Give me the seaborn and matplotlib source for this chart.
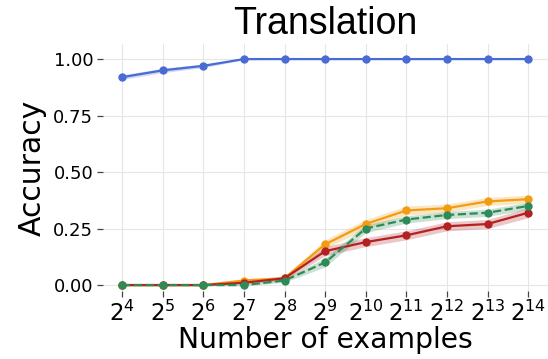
import matplotlib
matplotlib.use("Agg")
import matplotlib.pyplot as plt
import seaborn as sns
import pandas as pd

# Training-set size as powers of two
exponents = [4, 5, 6, 7, 8, 9, 10, 11, 12, 13, 14]
tick_labels = [f"$2^{{{e}}}$" for e in exponents]

# Mean accuracy per model and half-width of its confidence band
blue_mean = [0.92, 0.95, 0.97, 1.00, 1.00, 1.00, 1.00, 1.00, 1.00, 1.00, 1.00]
blue_band = [0.010, 0.010, 0.008, 0.003, 0.002, 0.002, 0.002, 0.002, 0.002, 0.002, 0.002]

orange_mean = [0.00, 0.00, 0.00, 0.02, 0.03, 0.18, 0.27, 0.33, 0.34, 0.37, 0.38]
orange_band = [0.003, 0.003, 0.003, 0.008, 0.010, 0.020, 0.020, 0.020, 0.018, 0.018, 0.018]

red_mean = [0.00, 0.00, 0.00, 0.01, 0.03, 0.15, 0.19, 0.22, 0.26, 0.27, 0.32]
red_band = [0.003, 0.003, 0.003, 0.006, 0.010, 0.020, 0.020, 0.020, 0.020, 0.020, 0.022]

green_mean = [0.00, 0.00, 0.00, 0.00, 0.02, 0.10, 0.25, 0.29, 0.31, 0.32, 0.35]
green_band = [0.003, 0.003, 0.003, 0.004, 0.008, 0.020, 0.018, 0.016, 0.016, 0.016, 0.016]

series = [
    ("blue", blue_mean, blue_band, "#4a6bd3", "-"),
    ("orange", orange_mean, orange_band, "#f39c12", "-"),
    ("red", red_mean, red_band, "#b22222", "-"),
    ("green", green_mean, green_band, "#2e8b57", "--"),
]

sns.set_theme(style="whitegrid")
plt.rcParams["font.family"] = ["DejaVu Sans"]
plt.rcParams.update({
    "text.color": "black",
    "axes.labelcolor": "black",
    "xtick.labelcolor": "black",
    "ytick.labelcolor": "black",
})

fig = plt.figure(figsize=(5.48, 3.59), dpi=100)
ax = fig.add_axes([0.188, 0.189, 0.812, 0.688])

for name, mean, band, color, ls in series:
    df = pd.DataFrame({"x": exponents, "y": mean})
    sns.lineplot(data=df, x="x", y="y", ax=ax, color=color, linestyle=ls,
                 marker="o", markersize=6, markeredgewidth=0, linewidth=1.6)
    lo = [m - b for m, b in zip(mean, band)]
    hi = [m + b for m, b in zip(mean, band)]
    ax.fill_between(exponents, lo, hi, color=color, alpha=0.25, linewidth=0)

ax.set_xlim(3.53, 14.49)
ax.set_ylim(-0.027, 1.066)
ax.set_xticks(exponents)
ax.set_xticklabels(tick_labels, fontsize=16.5)
ax.set_yticks([0.0, 0.25, 0.5, 0.75, 1.0])
ax.set_yticklabels(["0.00", "0.25", "0.50", "0.75", "1.00"], fontsize=13)
ax.tick_params(axis="both", left=True, bottom=True, length=4, width=0.9,
               color="#444444", pad=3)
for s in ax.spines.values():
    s.set_visible(False)
ax.grid(True, color="#e6e6e6", linewidth=0.8)

ax.set_xlabel("Number of examples", fontsize=20.3, labelpad=0)
ax.set_ylabel("Accuracy", fontsize=21.5, labelpad=5)
ax.set_title("Translation", fontsize=27, family="Liberation Sans", pad=7)

fig.savefig("out.png", dpi=100)
